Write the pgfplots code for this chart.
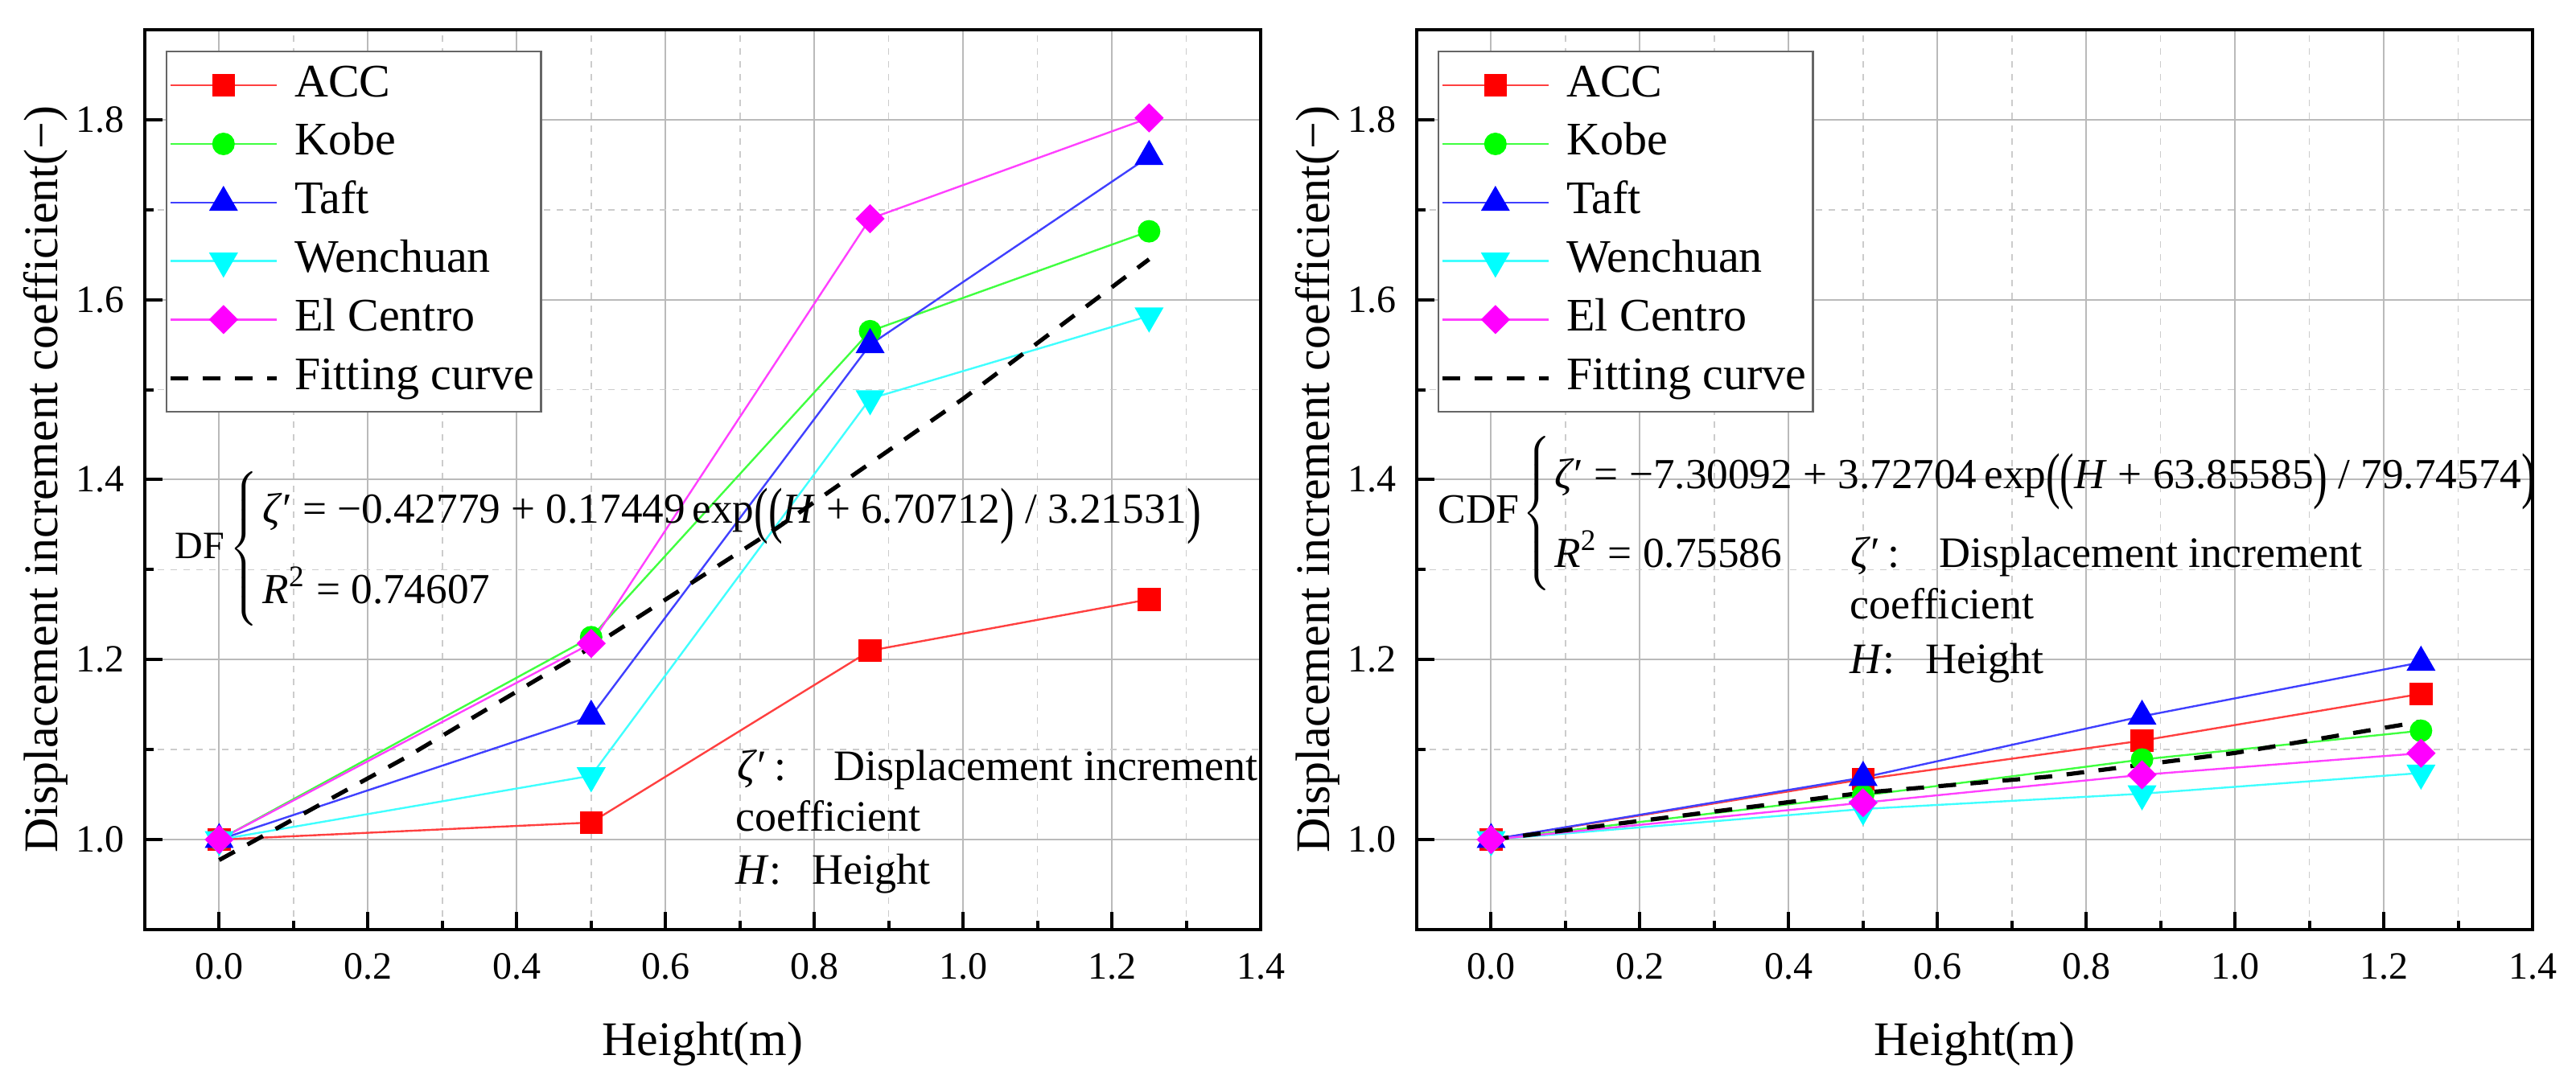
\documentclass[border=0pt]{standalone}
\usepackage{fontspec}
\setmainfont{Liberation Serif}
\usepackage{graphicx}
\usepackage{pgfplots}
\pgfplotsset{compat=1.18}

\definecolor{cR}{RGB}{255,0,0}
\definecolor{cG}{RGB}{0,255,0}
\definecolor{cB}{RGB}{0,0,255}
\definecolor{cC}{RGB}{0,255,255}
\definecolor{cM}{RGB}{255,0,255}

\newcommand{\bp}[1]{\raisebox{-0.2em}{\scalebox{1}[1.45]{#1}}}

\pgfplotsset{
  myaxis/.style={
    scale only axis,
    width=346.75pt, height=279.75pt,
    xmin=-0.1, xmax=1.4, ymin=0.9, ymax=1.9,
    xtick={0,0.2,...,1.4}, ytick={1.0,1.2,...,1.8},
    minor tick num=1,
    grid=both,
    major grid style={line width=0.5pt, color=black!27},
    minor grid style={line width=0.4pt, color=black!20, dash pattern=on 2pt off 2pt},
    tick align=inside, xtick pos=bottom, ytick pos=left,
    major tick length=5.5pt, minor tick length=2.75pt,
    every tick/.style={black, line width=1pt},
    axis line style={line width=1pt},
    /pgf/number format/assume math mode=true,
    xticklabel={\pgfmathprintnumber[fixed,fixed zerofill,precision=1]{\tick}},
    yticklabel={\pgfmathprintnumber[fixed,fixed zerofill,precision=1]{\tick}},
    ticklabel style={font=\fontsize{12}{14}\selectfont},
    xticklabel style={anchor=north, inner sep=0pt, yshift=-7.25pt},
    yticklabel style={anchor=east, inner sep=0pt, xshift=-6.25pt},
    xlabel={Height(m)},
    ylabel={Displacement increment coefficient(−)},
    label style={font=\fontsize{15}{17}\selectfont},
    xlabel style={at={(axis description cs:0.5,-0.127)}, anchor=center},
    ylabel style={at={(axis description cs:-0.089,0.5)}, anchor=center, rotate=0},
    legend cell align=left,
    legend image code/.code={\draw[mark repeat=2,mark phase=2,#1] plot coordinates {(0pt,0pt) (16.5pt,0pt) (33pt,0pt)};},
    legend style={at={(axis description cs:0,1)}, anchor=north west,
      xshift=6.5pt, yshift=-6.5pt, draw=black!60, line width=0.6pt, fill=white,
      font=\fontsize{14.5}{17}\selectfont, inner xsep=0.5pt, inner ysep=1.5pt,
      nodes={inner sep=1.5pt, text height=11pt, text depth=4pt},
      row sep=0.2pt,
      /tikz/every odd column/.append style={column sep=3.5pt}},
  },
  sACC/.style={color=cR!75!white, line width=0.6pt, mark=square*, mark size=3.25pt, mark options={solid, fill=cR, draw=cR}},
  sKobe/.style={color=cG!75!white, line width=0.6pt, mark=*, mark size=3.2pt, mark options={solid, fill=cG, draw=cG}},
  sTaft/.style={color=cB!75!white, line width=0.6pt, mark=triangle*, mark size=4.6pt, mark options={solid, fill=cB, draw=cB}},
  sWen/.style={color=cC!75!white, line width=0.6pt, mark=triangle*, mark size=4.6pt, mark options={solid, fill=cC, draw=cC, rotate=180}},
  sElc/.style={color=cM!75!white, line width=0.6pt, mark=square*, mark size=2.9pt, mark options={solid, fill=cM, draw=cM, rotate=45}},
  sFit/.style={black, line width=1.3pt, dash pattern=on 5.5pt off 4.5pt, no marks},
}

\begin{document}
\begin{tikzpicture}
% ---------------- left panel (DF) ----------------
\begin{axis}[myaxis, at={(45pt,48pt)}, anchor=south west]
\addplot[sACC] coordinates {(0,1.000) (0.5,1.019) (0.875,1.210) (1.25,1.267)};
\addlegendentry{ACC}
\addplot[sKobe] coordinates {(0,1.000) (0.5,1.225) (0.875,1.565) (1.25,1.676)};
\addlegendentry{Kobe}
\addplot[sTaft] coordinates {(0,1.000) (0.5,1.137) (0.875,1.550) (1.25,1.759)};
\addlegendentry{Taft}
\addplot[sWen] coordinates {(0,1.000) (0.5,1.071) (0.875,1.490) (1.25,1.582)};
\addlegendentry{Wenchuan}
\addplot[sElc] coordinates {(0,1.000) (0.5,1.218) (0.875,1.690) (1.25,1.802)};
\addlegendentry{El Centro}
\addplot[sFit] coordinates {(0,0.9773) (0.25,1.0909) (0.5,1.2137) (0.75,1.3464) (1.0,1.4899) (1.25,1.6449)};
\addlegendentry{Fitting curve}

\node[anchor=west, inner sep=0pt] at (axis cs:-0.060,1.325)
 {\fontsize{12}{14}\selectfont DF\hspace{1.5pt}$\left\{\hspace{1.5pt}\fontsize{13.3}{15.5}\selectfont\renewcommand{\arraystretch}{1.62}%
 \begin{tabular}{@{}l@{}}
 \textit{ζ}′ = −0.42779 + 0.17449\,exp\bp{(}\bp{(}\textit{H} + 6.70712\bp{)} / 3.21531\bp{)}\\
 \textit{R}\textsuperscript{2} = 0.74607
 \end{tabular}\right.$};

\node[anchor=base west, inner sep=0pt, font=\fontsize{13.5}{16}\selectfont] at (axis cs:0.696,1.0658)
 {\textit{ζ}′\,:\hspace{1.1em}Displacement increment};
\node[anchor=base west, inner sep=0pt, font=\fontsize{13.5}{16}\selectfont] at (axis cs:0.694,1.0098)
 {coefficient};
\node[anchor=base west, inner sep=0pt, font=\fontsize{13.5}{16}\selectfont] at (axis cs:0.694,0.9502)
 {\textit{H}:\hspace{0.7em}Height};
\end{axis}

% ---------------- right panel (CDF) ----------------
\begin{axis}[myaxis, at={(440.25pt,48pt)}, anchor=south west]
\addplot[sACC] coordinates {(0,1.000) (0.5,1.067) (0.875,1.110) (1.25,1.162)};
\addlegendentry{ACC}
\addplot[sKobe] coordinates {(0,1.000) (0.5,1.049) (0.875,1.089) (1.25,1.121)};
\addlegendentry{Kobe}
\addplot[sTaft] coordinates {(0,1.000) (0.5,1.069) (0.875,1.137) (1.25,1.197)};
\addlegendentry{Taft}
\addplot[sWen] coordinates {(0,1.000) (0.5,1.034) (0.875,1.051) (1.25,1.074)};
\addlegendentry{Wenchuan}
\addplot[sElc] coordinates {(0,1.000) (0.5,1.041) (0.875,1.072) (1.25,1.096)};
\addlegendentry{El Centro}
\addplot[sFit] coordinates {(0,0.9999) (0.25,1.0260) (0.5,1.0521) (0.75,1.0700) (1.0,1.0963) (1.25,1.1311)};
\addlegendentry{Fitting curve}

\node[anchor=west, inner sep=0pt] at (axis cs:-0.072,1.364)
 {\fontsize{13}{15}\selectfont CDF\hspace{1pt}$\left\{\hspace{1pt}\fontsize{13.3}{15.5}\selectfont\renewcommand{\arraystretch}{1.58}%
 \begin{tabular}{@{}l@{}}
 \textit{ζ}′ = −7.30092 + 3.72704\,exp\bp{(}\bp{(}\textit{H} + 63.85585\bp{)} / 79.74574\bp{)}\\
 \textit{R}\textsuperscript{2} = 0.75586
 \end{tabular}\right.$};

\node[anchor=base west, inner sep=0pt, font=\fontsize{13.5}{16}\selectfont] at (axis cs:0.483,1.303)
 {\textit{ζ}′\,:\hspace{0.9em}Displacement increment};
\node[anchor=base west, inner sep=0pt, font=\fontsize{13.5}{16}\selectfont] at (axis cs:0.481,1.245)
 {coefficient};
\node[anchor=base west, inner sep=0pt, font=\fontsize{13.5}{16}\selectfont] at (axis cs:0.481,1.185)
 {\textit{H}:\hspace{0.7em}Height};
\end{axis}

\pgfresetboundingbox
\path (0,0) rectangle (800.5pt,337pt);
\end{tikzpicture}
\end{document}
